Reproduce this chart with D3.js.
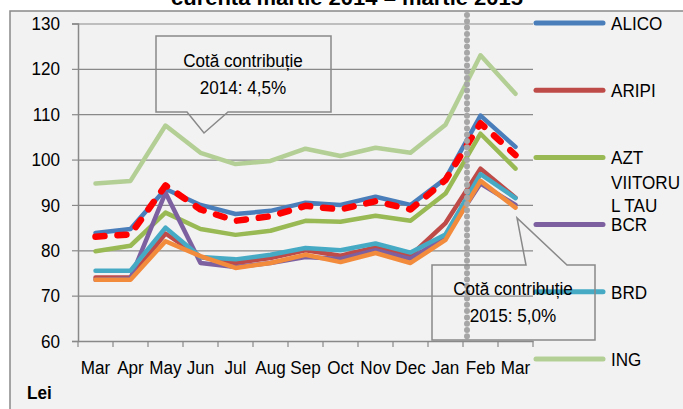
<!DOCTYPE html>
<html>
<head>
<meta charset="utf-8">
<script src="https://cdn.jsdelivr.net/npm/d3@7"></script>
<style>
  body { margin: 0; background: #fff; }
  svg { display: block; font-family: "Liberation Sans", Arial, sans-serif; }
</style>
</head>
<body>
<svg id="chart" width="683" height="409"></svg>
<script>
// months on the x axis
const months = ["Mar", "Apr", "May", "Jun", "Jul", "Aug", "Sep", "Oct", "Nov", "Dec", "Jan", "Feb", "Mar"]
const yTicks = [60, 70, 80, 90, 100, 110, 120, 130]

// values per fund (lei)
const alico = [83.8, 84.7, 93.5, 90, 88, 88.7, 90.5, 90, 91.8, 90, 95.8, 109.7, 102.8]
const aripi = [74, 74, 83.7, 78.5, 77.2, 78.3, 80, 78.8, 80.6, 78.8, 86, 98, 91.6]
const azt = [79.8, 81, 88.3, 84.7, 83.4, 84.3, 86.5, 86.3, 87.6, 86.5, 92.5, 105.7, 98]
const bcr = [73.5, 73.8, 92.7, 77.2, 76.3, 77.2, 78.5, 78.1, 80, 78.1, 83, 94.7, 90]
const brd = [75.5, 75.5, 85, 78.5, 78, 79, 80.5, 80, 81.5, 79.5, 83.5, 96.8, 91.5]
const ing = [94.7, 95.3, 107.5, 101.5, 99, 99.7, 102.4, 100.8, 102.6, 101.5, 107.7, 123, 114.5]
const other = [73.5, 73.5, 82, 78.7, 76.1, 77.2, 79, 77.4, 79.4, 77.2, 82.3, 95.3, 89.4]
const average = [83, 83.5, 94.3, 89, 86.5, 87.5, 89.8, 89, 90.8, 89, 95.5, 108, 101]

const legendNames = ["ALICO", "ARIPI", "AZT VIITORUL TAU", "BCR", "BRD", "ING"]

const series = [
  { name: "ALICO", values: alico, color: "#4a7ebb" },
  { name: "ARIPI", values: aripi, color: "#be4b48" },
  { name: "AZT VIITORUL TAU", values: azt, color: "#98b954" },
  { name: "BCR", values: bcr, color: "#7d60a0" },
  { name: "BRD", values: brd, color: "#46aac5" },
  { name: "ING", values: ing, color: "#b4cf95" },
  { name: "other", values: other, color: "#f38b3c" },
]

const gray = "#898989"
const svg = d3.select("#chart")

// text is a bit narrow in the original
const sx = 0.9
function label(g, x, y, s, anchor, weight) {
  return g.append("text")
    .attr("transform", `translate(${x},${y}) scale(${sx},1)`)
    .attr("text-anchor", anchor || "start")
    .attr("font-size", 19)
    .attr("font-weight", weight || "normal")
    .attr("fill", "#000")
    .text(s)
}

// frame
svg.append("rect")
  .attr("x", 10).attr("y", 11)
  .attr("width", 700).attr("height", 420)
  .attr("fill", "#f2f2f2")
  .attr("stroke", gray).attr("stroke-width", 1.5)

// title (cut at the top)
svg.append("text")
  .attr("x", 171).attr("y", 5)
  .attr("font-size", 21).attr("font-weight", "bold")
  .attr("textLength", 352).attr("lengthAdjust", "spacingAndGlyphs")
  .text("curentă martie 2014 – martie 2015")

const x = d3.scaleBand().domain(d3.range(months.length)).range([78, 533])
const y = d3.scaleLinear().domain([60, 130]).range([341, 23.5])

// grid
svg.append("g")
  .attr("transform", "translate(78,0)")
  .call(d3.axisLeft(y).tickValues(yTicks.slice(1)).tickSize(-455).tickFormat(""))
  .call(g => g.select(".domain").remove())
  .call(g => g.selectAll("line").attr("stroke", gray).attr("stroke-width", 1.2))

// y axis
svg.append("g")
  .attr("transform", "translate(78,0)")
  .call(d3.axisLeft(y).tickValues(yTicks).tickSize(6).tickPadding(14))
  .call(g => g.select(".domain").attr("stroke", gray).attr("stroke-width", 1.5))
  .call(g => g.selectAll("line").attr("stroke", gray).attr("stroke-width", 1.2))
  .call(g => g.selectAll("text")
    .attr("font-size", 19).attr("font-family", "Liberation Sans, Arial, sans-serif")
    .attr("fill", "#000").attr("transform", `scale(${sx},1)`))

// x axis
const xg = svg.append("g")
  .attr("transform", "translate(0,341)")
  .call(d3.axisBottom(x).tickSize(0).tickPadding(20).tickFormat(i => months[i]))
  .call(g => g.select(".domain").attr("stroke", gray).attr("stroke-width", 1.5))
  .call(g => g.selectAll("text")
    .attr("font-size", 19).attr("font-family", "Liberation Sans, Arial, sans-serif")
    .attr("fill", "#000").attr("transform", `scale(${sx},1)`))

// ticks between months
xg.selectAll(".bt")
  .data(d3.range(months.length + 1))
  .join("line")
  .attr("x1", i => i < months.length ? x(i) : x.range()[1])
  .attr("x2", i => i < months.length ? x(i) : x.range()[1])
  .attr("y1", 0).attr("y2", 6)
  .attr("stroke", gray).attr("stroke-width", 1.2)

// lines
const line = d3.line()
  .x((d, i) => x(i) + x.bandwidth() / 2)
  .y(d => y(d))

svg.append("g").selectAll("path")
  .data(series)
  .join("path")
  .attr("d", d => line(d.values))
  .attr("fill", "none")
  .attr("stroke", d => d.color)
  .attr("stroke-width", 4.5)
  .attr("stroke-linejoin", "round")
  .attr("stroke-linecap", "round")

// average, red dashed
svg.append("path")
  .attr("d", line(average))
  .attr("fill", "none")
  .attr("stroke", "#ff0000")
  .attr("stroke-width", 6.5)
  .attr("stroke-dasharray", "9,13")
  .attr("stroke-linecap", "round")
  .attr("stroke-linejoin", "round")

// dotted separator between Jan and Feb
svg.append("line")
  .attr("x1", 467).attr("x2", 467)
  .attr("y1", 15).attr("y2", 341)
  .attr("stroke", "#a6a6a6")
  .attr("stroke-width", 6)
  .attr("stroke-dasharray", "0,6.3")
  .attr("stroke-linecap", "round")

// legend
const lg = svg.append("g")
legendNames.forEach((n, i) => {
  const ly = 23 + i * 67.2
  const s = series.find(d => d.name === n)
  lg.append("line")
    .attr("x1", 536).attr("x2", 603)
    .attr("y1", ly).attr("y2", ly)
    .attr("stroke", s.color).attr("stroke-width", 5)
    .attr("stroke-linecap", "round")
})
label(lg, 611, 23 + 7, "ALICO")
label(lg, 611, 90 + 7, "ARIPI")
label(lg, 611, 157 + 7, "AZT")
label(lg, 611, 182 + 7, "VIITORU")
label(lg, 611, 205 + 7, "L TAU")
label(lg, 611, 224 + 7, "BCR")
label(lg, 611, 292 + 7, "BRD")
label(lg, 611, 359 + 7, "ING")

// callouts
const c = svg.append("g")
c.append("path")
  .attr("d", "M156,36 H331 V112 H228 L204,133 L187,112 H156 Z")
  .attr("fill", "none").attr("stroke", gray).attr("stroke-width", 1.5)
label(c, 243, 67, "Cotă contribuție", "middle")
label(c, 243, 94, "2014: 4,5%", "middle")

c.append("path")
  .attr("d", "M432,265 H526 L517,218 L567,265 H595 V340 H432 Z")
  .attr("fill", "none").attr("stroke", gray).attr("stroke-width", 1.5)
label(c, 513, 295, "Cotă contribuție", "middle")
label(c, 513, 322, "2015: 5,0%", "middle")

// unit
label(svg, 27, 399, "Lei", "start", "bold")
</script>
</body>
</html>
